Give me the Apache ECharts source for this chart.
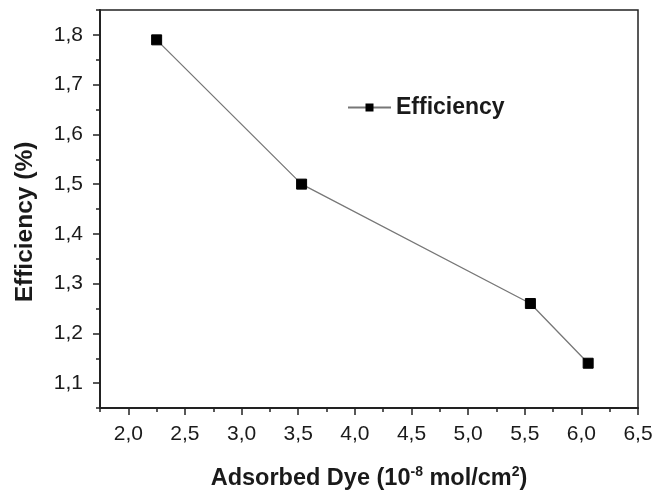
<!DOCTYPE html>
<html>
<head>
<meta charset="utf-8">
<script src="https://cdn.jsdelivr.net/npm/echarts@6/dist/echarts.min.js"></script>
<style>html,body{margin:0;padding:0;background:#fff;}#c{width:657px;height:491px;}</style>
</head>
<body>
<div id="c"></div>
<script>
var seriesName = 'Efficiency';
var adsorbedDye = [2.25, 3.53, 5.55, 6.06];
var efficiency = [1.79, 1.50, 1.26, 1.14];
var xMajorTicks = [2.0, 2.5, 3.0, 3.5, 4.0, 4.5, 5.0, 5.5, 6.0, 6.5];
var yMajorTicks = [1.1, 1.2, 1.3, 1.4, 1.5, 1.6, 1.7, 1.8];

var FONT = '"Liberation Sans", Arial, Helvetica, sans-serif';
var TXT = '#1a1a1a';
var AXC = '#222';
function fmt(v) { return (Math.round(v * 10) / 10).toFixed(1).replace('.', ','); }

var points = adsorbedDye.map(function (x, i) { return [x, efficiency[i]]; });

var chart = echarts.init(document.getElementById('c'), null, { renderer: 'canvas' });
chart.setOption({
  backgroundColor: '#fff',
  animation: false,
  grid: {
    left: 100, top: 10, right: 19, bottom: 83, containLabel: false, outerBoundsMode: 'none',
    show: true, borderColor: AXC, borderWidth: 1.5, backgroundColor: 'transparent'
  },
  legend: {
    data: [seriesName], left: 347, top: 96, padding: 0, itemWidth: 43, itemHeight: 10, itemGap: 8,
    textStyle: { fontFamily: FONT, fontSize: 23, fontWeight: 'bold', color: TXT }
  },
  xAxis: [
    {
      type: 'value', position: 'bottom', min: 1.75, max: 6.5,
      axisLine: { show: true, lineStyle: { color: AXC, width: 2 } },
      axisTick: { show: true, customValues: xMajorTicks, length: 7, lineStyle: { color: AXC, width: 1.5 } },
      axisLabel: { customValues: xMajorTicks, formatter: fmt, fontFamily: FONT, fontSize: 21, color: TXT, margin: 16 },
      splitLine: { show: false },
      name: '{b|Adsorbed Dye (10}{s|-8}{b| mol/cm}{s|2}{b|)}',
      nameLocation: 'middle', nameGap: 57,
      nameTextStyle: {
        rich: {
          b: { fontFamily: FONT, fontSize: 23.5, fontWeight: 'bold', color: TXT, lineHeight: 26, verticalAlign: 'bottom' },
          s: { fontFamily: FONT, fontSize: 14, fontWeight: 'bold', color: TXT, lineHeight: 26, verticalAlign: 'top' }
        }
      }
    },
    {
      type: 'value', position: 'bottom', min: 1.75, max: 6.5, interval: 0.25,
      axisLine: { show: false },
      axisTick: { show: true, length: 4, lineStyle: { color: AXC, width: 1.5 } },
      axisLabel: { show: false }, splitLine: { show: false }
    }
  ],
  yAxis: [
    {
      type: 'value', position: 'left', min: 1.05, max: 1.85,
      axisLine: { show: true, lineStyle: { color: AXC, width: 2 } },
      axisTick: { show: true, customValues: yMajorTicks, length: 7, lineStyle: { color: AXC, width: 1.5 } },
      axisLabel: { customValues: yMajorTicks, formatter: fmt, fontFamily: FONT, fontSize: 21, color: TXT, margin: 17 },
      splitLine: { show: false }
    },
    {
      type: 'value', position: 'left', min: 1.05, max: 1.85, interval: 0.05,
      axisLine: { show: false },
      axisTick: { show: true, length: 4, lineStyle: { color: AXC, width: 1.5 } },
      axisLabel: { show: false }, splitLine: { show: false }
    }
  ],
  graphic: [{
    type: 'text', x: 25, y: 222, rotation: Math.PI / 2,
    style: { text: 'Efficiency (%)', font: 'bold 24.5px ' + FONT, fill: TXT, textAlign: 'center', textVerticalAlign: 'middle' }
  }],
  series: [{
    name: seriesName, type: 'line', xAxisIndex: 0, yAxisIndex: 0,
    data: points, symbol: 'rect', symbolSize: 10,
    lineStyle: { color: '#777', width: 1.3 },
    itemStyle: { color: '#000', borderColor: '#000' }
  }]
});
</script>
</body>
</html>
